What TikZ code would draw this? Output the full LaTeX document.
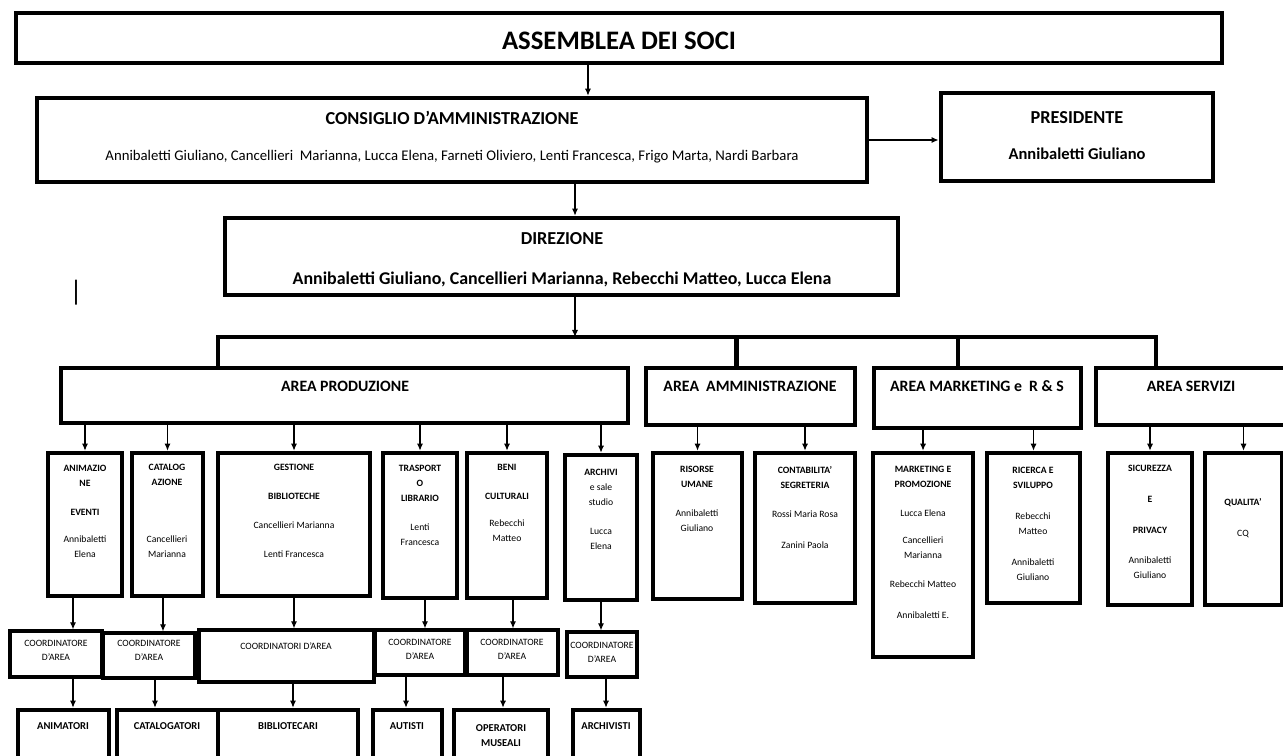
\documentclass[tikz,border=0pt]{standalone}
\usepackage{fontspec}
\setmainfont{Carlito}
\usetikzlibrary{positioning,fit,arrows.meta}

\tikzset{
  box/.style={draw, line width=2.7pt, inner sep=0pt},
  cbox/.style={draw, line width=1.9pt, inner sep=0pt},
  head/.style={inner sep=0pt, font=\bfseries\fontsize{10.4}{12}\selectfont},
  names/.style={inner sep=0pt, font=\fontsize{8.4}{9}\selectfont},
  bnames/.style={inner sep=0pt, font=\bfseries\fontsize{10.2}{11}\selectfont},
  areatxt/.style={inner sep=0pt, font=\bfseries\fontsize{9}{11}\selectfont},
  subtxt/.style={inner sep=0pt, anchor=north, align=center, font=\fontsize{5.5}{8.5}\selectfont},
  coordtxt/.style={inner sep=0pt, anchor=north, align=center, font=\fontsize{5.5}{8}\selectfont},
  bottxt/.style={inner sep=0pt, anchor=north, align=center, font=\bfseries\fontsize{6}{8.5}\selectfont},
  conn/.style={->, line width=0.6pt},
  busline/.style={line width=2.4pt}
}
\newcommand{\tb}[1]{\textbf{#1}}

\begin{document}
\begin{tikzpicture}[x=0.02cm, y=-0.02cm, >={Latex[length=4pt,width=3.5pt]}]
\useasboundingbox (0,0) rectangle (1283,755);
\clip (0,0) rectangle (1283,755);

% top levels
\node[box, fit={(16,13) (1222,63)}] (ass) {};
\node[inner sep=0pt, font=\bfseries\fontsize{15.2}{17}\selectfont] at (619,41) (asst) {ASSEMBLEA DEI SOCI};

\node[box, fit={(37,98) (867,182)}] (cda) {};
\node[head] at (452,118) (cdat) {CONSIGLIO D'AMMINISTRAZIONE};
\node[names] at (452,157) (cdan) {Annibaletti Giuliano, Cancellieri\ \ Marianna, Lucca Elena, Farneti Oliviero, Lenti Francesca, Frigo Marta, Nardi Barbara};

\node[box, fit={(941,93) (1213,181)}] (pres) {};
\node[head] at (1077,118) (prest) {PRESIDENTE};
\node[bnames, font=\bfseries\fontsize{9.4}{11}\selectfont] at (1077,154) (presn) {Annibaletti Giuliano};

\node[box, fit={(225,218) (898,295)}] (dir) {};
\node[head] at (562,239) (dirt) {DIREZIONE};
\node[bnames] at (562,279) (dirn) {Annibaletti Giuliano, Cancellieri Marianna, Rebecchi Matteo, Lucca Elena};

\node[inner sep=0pt, font=\fontsize{16}{18}\selectfont] at (76,293) (bar) {|};

\draw[conn] ([xshift=2.72cm]cda.north |- ass.south) -- ([xshift=2.72cm]cda.north);
\draw[conn, line width=1.1pt] (cda.east) -- (cda.east -| pres.west);
\draw[conn] ([xshift=0.27cm]dir.north |- cda.south) -- ([xshift=0.27cm]dir.north);

% areas
\node[box, fit={(61,368) (628,423)}] (prod) {};
\node[areatxt] at (345,386) (prodt) {AREA PRODUZIONE};
\node[box, fit={(646,368) (855,425)}] (amm) {};
\node[areatxt] at (750,386) (ammt) {AREA\ \ AMMINISTRAZIONE};
\node[box, fit={(874,368) (1081,428)}] (mkt) {};
\node[areatxt] at (977,386) (mktt) {AREA MARKETING e\ \ R \& S};
\node[box, fit={(1096,368) (1288,425)}] (serv) {};
\node[areatxt] at (1191,386) (servt) {AREA SERVIZI};

\coordinate (busl) at (218,337);
\coordinate (busr) at (1156,337);
\draw[conn] ([xshift=0.27cm]dir.south) -- ([xshift=0.27cm]dir.south |- busl);
\draw[busline] (busl |- prod.north) -- (busl) -- (busr) -- (busr |- serv.north);
\draw[busline] ([xshift=-0.28cm]amm.north) -- ([xshift=-0.28cm]amm.north |- busl);
\draw[busline] ([xshift=-0.39cm]mkt.north) -- ([xshift=-0.39cm]mkt.north |- busl);

% offices
\node[box, fit={(48,453) (122,596)}] (anim) {};
\node[subtxt] at (85,465) (animt) {\tb{ANIMAZIO}\\\tb{NE}\\[8pt]\tb{EVENTI}\\[7pt]Annibaletti\\Elena};
\node[box, fit={(132,453) (203,596)}] (catal) {};
\node[subtxt] at (167,464) (catalt) {\tb{CATALOG}\\\tb{AZIONE}\\[24pt]Cancellieri\\Marianna};
\node[box, fit={(218,453) (370,596)}] (gest) {};
\node[subtxt] at (294,464) (gestt) {\tb{GESTIONE}\\[8pt]\tb{BIBLIOTECHE}\\[8pt]Cancellieri Marianna\\[8pt]Lenti Francesca};
\node[box, fit={(383,453) (457,598)}] (trasp) {};
\node[subtxt] at (420,465) (traspt) {\tb{TRASPORT}\\\tb{O}\\\tb{LIBRARIO}\\[8pt]Lenti\\Francesca};
\node[box, fit={(467,453) (547,598)}] (beni) {};
\node[subtxt] at (507,464) (benit) {\tb{BENI}\\[8pt]\tb{CULTURALI}\\[7pt]Rebecchi\\Matteo};
\node[box, fit={(565,455) (637,600)}] (arch) {};
\node[subtxt] at (601,469) (archt) {\tb{ARCHIVI}\\e sale\\studio\\[8pt]Lucca\\Elena};
\node[box, fit={(653,453) (742,599)}] (ris) {};
\node[subtxt] at (697,466) (rist) {\tb{RISORSE}\\\tb{UMANE}\\[8pt]Annibaletti\\Giuliano};
\node[box, fit={(755,453) (855,603)}] (cont) {};
\node[subtxt] at (805,466) (contt) {\tb{CONTABILITA'}\\\tb{SEGRETERIA}\\[8pt]Rossi Maria Rosa\\[9pt]Zanini Paola};
\node[box, fit={(873,453) (973,657)}] (mark) {};
\node[subtxt] at (923,466) (markt) {\tb{MARKETING E}\\\tb{PROMOZIONE}\\[8pt]Lucca Elena\\[7pt]Cancellieri\\Marianna\\[8pt]Rebecchi Matteo\\[9pt]Annibaletti E.};
\node[box, fit={(987,453) (1080,603)}] (ric) {};
\node[subtxt] at (1033,467) (rict) {\tb{RICERCA E}\\\tb{SVILUPPO}\\[9pt]Rebecchi\\Matteo\\[9pt]Annibaletti\\Giuliano};
\node[box, fit={(1108,453) (1192,605)}] (sic) {};
\node[subtxt] at (1150,465) (sict) {\tb{SICUREZZA}\\[9pt]\tb{E}\\[9pt]\tb{PRIVACY}\\[9pt]Annibaletti\\Giuliano};
\node[box, fit={(1205,453) (1282,605)}] (qual) {};
\node[subtxt] at (1243,498) (qualt) {\tb{QUALITA'}\\[9pt]CQ};

\foreach \o in {anim,catal,gest,trasp,beni,arch}
  \draw[conn] (\o.north |- prod.south) -- (\o.north);
\foreach \o in {ris,cont}
  \draw[conn] (\o.north |- amm.south) -- (\o.north);
\foreach \o in {mark,ric}
  \draw[conn] (\o.north |- mkt.south) -- (\o.north);
\foreach \o in {sic,qual}
  \draw[conn] (\o.north |- serv.south) -- (\o.north);

% coordinators
\node[cbox, fit={(10,631) (102,677)}] (c1) {};
\node[coordtxt] at (56,640) (c1t) {COORDINATORE\\D'AREA};
\node[cbox, fit={(103,633) (195,678)}] (c2) {};
\node[coordtxt] at (149,640) (c2t) {COORDINATORE\\D'AREA};
\node[cbox, fit={(199,630) (374,682)}] (c3) {};
\node[coordtxt] at (286,642) (c3t) {COORDINATORI D'AREA};
\node[cbox, fit={(375,630) (465,675)}] (c4) {};
\node[coordtxt] at (420,639) (c4t) {COORDINATORE\\D'AREA};
\node[cbox, fit={(467,630) (558,675)}] (c5) {};
\node[coordtxt] at (512,639) (c5t) {COORDINATORE\\D'AREA};
\node[cbox, fit={(567,632) (637,677)}] (c6) {};
\node[coordtxt] at (602,642) (c6t) {COORDINATORE\\D'AREA};

\draw[conn] ([xshift=-0.24cm]anim.south) -- ([xshift=-0.24cm]anim.south |- c1.north);
\draw[conn] ([xshift=-0.09cm]catal.south) -- ([xshift=-0.09cm]catal.south |- c2.north);
\draw[conn] (gest.south) -- (gest.south |- c3.north);
\draw[conn] ([xshift=0.1cm]trasp.south) -- ([xshift=0.1cm]trasp.south |- c4.north);
\draw[conn] ([xshift=0.12cm]beni.south) -- ([xshift=0.12cm]beni.south |- c5.north);
\draw[conn] (arch.south) -- (arch.south |- c6.north);

% staff
\node[box, fit={(18,710) (109,780)}] (b1) {};
\node[bottxt] at (63,722) (b1t) {ANIMATORI};
\node[box, fit={(117,710) (218,780)}] (b2) {};
\node[bottxt] at (167,722) (b2t) {CATALOGATORI};
\node[box, fit={(218,710) (358,780)}] (b3) {};
\node[bottxt] at (288,722) (b3t) {BIBLIOTECARI};
\node[box, fit={(373,710) (442,780)}] (b4) {};
\node[bottxt] at (407,722) (b4t) {AUTISTI};
\node[box, fit={(454,710) (548,780)}] (b5) {};
\node[bottxt] at (501,724) (b5t) {OPERATORI\\MUSEALI};
\node[box, fit={(573,710) (640,780)}] (b6) {};
\node[bottxt] at (606,722) (b6t) {ARCHIVISTI};

\draw[conn] ([xshift=0.34cm]c1.south) -- ([xshift=0.34cm]c1.south |- b1.north);
\draw[conn] ([xshift=0.12cm]c2.south) -- ([xshift=0.12cm]c2.south |- b2.north);
\draw[conn] ([xshift=0.13cm]c3.south) -- ([xshift=0.13cm]c3.south |- b3.north);
\draw[conn] ([xshift=-0.28cm]c4.south) -- ([xshift=-0.28cm]c4.south |- b4.north);
\draw[conn] ([xshift=-0.19cm]c5.south) -- ([xshift=-0.19cm]c5.south |- b5.north);
\draw[conn] ([xshift=0.08cm]c6.south) -- ([xshift=0.08cm]c6.south |- b6.north);
\end{tikzpicture}
\end{document}
